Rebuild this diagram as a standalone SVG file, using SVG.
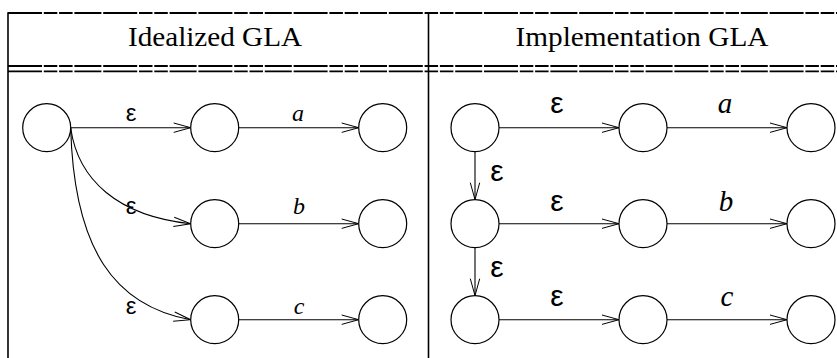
<svg xmlns="http://www.w3.org/2000/svg" width="837" height="358" viewBox="0 0 837 358">
<defs>
<marker id="arr" markerUnits="userSpaceOnUse" markerWidth="20" markerHeight="12" refX="17" refY="5" orient="auto" overflow="visible">
<path d="M0 0.3 L17 5 L0 9.7" fill="none" stroke="#000" stroke-width="1"/>
</marker>
</defs>
<style>
.frame{stroke:#000;stroke-width:1.6;fill:none}
.dash{stroke:#000;stroke-width:1.8;fill:none;stroke-dasharray:34 1.8 13.5 1.8 13.5 1.8 27 1.8}
.st{fill:#fff;stroke:#000;stroke-width:1.2}
.e{stroke:#000;stroke-width:1.1;fill:none;marker-end:url(#arr)}
.hd{font-family:"Liberation Serif",serif;font-size:27px;text-anchor:middle;fill:#000}
.eps{font-family:"Liberation Sans",sans-serif;text-anchor:middle;fill:#000}
.sym{font-family:"Liberation Serif",serif;font-style:italic;text-anchor:middle;fill:#000}
</style>
<g id="table">
<line class="dash" x1="8" y1="13" x2="837" y2="13"/>
<line class="dash" x1="8" y1="66" x2="837" y2="66"/>
<line class="dash" x1="8" y1="71.3" x2="837" y2="71.3"/>
<line class="frame" x1="8" y1="12.2" x2="8" y2="358"/>
<line class="frame" x1="428.5" y1="12.2" x2="428.5" y2="358"/>
<text class="hd" x="215" y="46" textLength="174" lengthAdjust="spacingAndGlyphs">Idealized GLA</text>
<text class="hd" x="642" y="46" textLength="253" lengthAdjust="spacingAndGlyphs">Implementation GLA</text>
</g>
<g id="connectors">
<line class="e" x1="70.7" y1="127.7" x2="190.7" y2="127.7"/>
<line class="e" x1="238.7" y1="127.7" x2="358.7" y2="127.7"/>
<path class="e" d="M70.7 128 C78 180 118 216 190.7 223.7"/>
<line class="e" x1="238.7" y1="223.7" x2="358.7" y2="223.7"/>
<path class="e" d="M70.7 128 C74 250 115 306 190.7 319.7"/>
<line class="e" x1="238.7" y1="319.7" x2="358.7" y2="319.7"/>
<line class="e" x1="499" y1="127.7" x2="619" y2="127.7"/>
<line class="e" x1="667" y1="127.7" x2="787" y2="127.7"/>
<line class="e" x1="475" y1="151.7" x2="475" y2="199.7"/>
<line class="e" x1="499" y1="223.7" x2="619" y2="223.7"/>
<line class="e" x1="667" y1="223.7" x2="787" y2="223.7"/>
<line class="e" x1="475" y1="247.7" x2="475" y2="295.7"/>
<line class="e" x1="499" y1="319.7" x2="619" y2="319.7"/>
<line class="e" x1="667" y1="319.7" x2="787" y2="319.7"/>
<text class="eps" font-size="24" x="131" y="121">ε</text>
<text class="sym" font-size="24" x="298" y="121">a</text>
<text class="eps" font-size="24" x="131" y="214">ε</text>
<text class="sym" font-size="24" x="299" y="214">b</text>
<text class="eps" font-size="24" x="131" y="314">ε</text>
<text class="sym" font-size="24" x="299" y="314">c</text>
<text class="eps" font-size="30" x="557" y="113">ε</text>
<text class="sym" font-size="29" x="725" y="113">a</text>
<text class="eps" font-size="30" x="497" y="181">ε</text>
<text class="eps" font-size="30" x="557" y="211">ε</text>
<text class="sym" font-size="29" x="726" y="211">b</text>
<text class="eps" font-size="30" x="497" y="277">ε</text>
<text class="eps" font-size="30" x="557" y="306">ε</text>
<text class="sym" font-size="29" x="727" y="306">c</text>
</g>
<g id="L0"><circle class="st" cx="46.7" cy="127.7" r="24"/></g>
<g id="L1"><circle class="st" cx="214.7" cy="127.7" r="24"/></g>
<g id="L2"><circle class="st" cx="382.7" cy="127.7" r="24"/></g>
<g id="L3"><circle class="st" cx="214.7" cy="223.7" r="24"/></g>
<g id="L4"><circle class="st" cx="382.7" cy="223.7" r="24"/></g>
<g id="L5"><circle class="st" cx="214.7" cy="319.7" r="24"/></g>
<g id="L6"><circle class="st" cx="382.7" cy="319.7" r="24"/></g>
<g id="R0"><circle class="st" cx="475" cy="127.7" r="24"/></g>
<g id="R1"><circle class="st" cx="643" cy="127.7" r="24"/></g>
<g id="R2"><circle class="st" cx="811" cy="127.7" r="24"/></g>
<g id="R3"><circle class="st" cx="475" cy="223.7" r="24"/></g>
<g id="R4"><circle class="st" cx="643" cy="223.7" r="24"/></g>
<g id="R5"><circle class="st" cx="811" cy="223.7" r="24"/></g>
<g id="R6"><circle class="st" cx="475" cy="319.7" r="24"/></g>
<g id="R7"><circle class="st" cx="643" cy="319.7" r="24"/></g>
<g id="R8"><circle class="st" cx="811" cy="319.7" r="24"/></g>
</svg>
